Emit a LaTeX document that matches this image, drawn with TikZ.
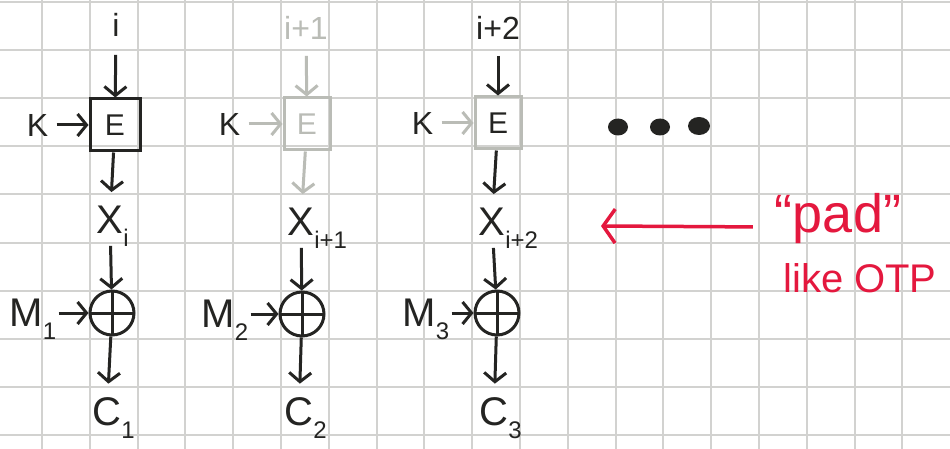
\documentclass[tikz,border=0pt]{standalone}
\usepackage{fontspec}
\setmainfont{Liberation Sans}
\usetikzlibrary{positioning,arrows.meta}

\definecolor{ink}{RGB}{36,36,34}
\definecolor{faded}{RGB}{186,188,182}
\definecolor{paperline}{RGB}{210,210,208}
\definecolor{marker}{RGB}{228,24,62}

\newcommand{\lowsub}[1]{\smash{\raisebox{-0.32em}{\fontsize{24}{24}\selectfont #1}}}
\newcommand{\hangsub}[1]{\rlap{\lowsub{#1}}}

\begin{document}
\begin{tikzpicture}[x=1pt,y=-1pt,
  big/.style={inner sep=2pt,text=ink,font=\fontsize{40}{40}\selectfont},
  small/.style={inner sep=2pt,text=ink,font=\fontsize{32}{32}\selectfont},
  encbox/.style={rectangle,draw=#1,line width=3pt,minimum width=50pt,minimum height=52pt,inner sep=0pt,font=\fontsize{30}{30}\selectfont},
  xorop/.style={circle,draw=ink,line width=3pt,minimum size=44pt,inner sep=0pt,
    path picture={\draw[ink,line width=3pt] (path picture bounding box.north) -- (path picture bounding box.south)
      (path picture bounding box.west) -- (path picture bounding box.east);}},
  arr/.style={draw=#1,line width=3pt,-{Straight Barb[length=9pt,width=22pt]}},
  arr/.default=ink,
  note/.style={inner sep=2pt,text=marker,font=\fontsize{#1}{#1}\selectfont},
  redarr/.style={draw=marker,line width=3.5pt,-{Straight Barb[length=12pt,width=34pt]}}]

  \useasboundingbox[fill=white] (0,0) rectangle (950,449);
  % grid paper
  \foreach \gx in {0,...,18}
    \draw[paperline,line width=2pt] ({42+47.8*\gx},0) -- ({42+47.8*\gx},449);
  \foreach \gy in {0,...,9}
    \draw[paperline,line width=2pt] (0,{2+48.1*\gy}) -- (950,{2+48.1*\gy});

  % block i
  \node[small] (idx1) at (116,25) {i};
  \node[encbox=ink,text=ink] (enc1) at (115,125) {E};
  \node[small,left=38pt of enc1] (key1) {K};
  \node[big] (pad1) at (110,220) {X\hangsub{i}};
  \node[xorop] (xor1) at (112,313) {};
  \node[big,left=30pt of xor1] (msg1) {M\lowsub{1}};
  \node[big] (ct1) at (107,412) {C\hangsub{1}};
  \draw[arr,shorten <=16pt] (idx1) -- (enc1);
  \draw[arr,shorten <=6pt] (key1) -- (enc1);
  \draw[arr,shorten >=12pt] (enc1) -- (pad1);
  \draw[arr,shorten <=10pt] (pad1) -- (xor1);
  \draw[arr] (msg1) -- (xor1);
  \draw[arr,shorten >=12pt] (xor1) -- (ct1);

  % block i+1
  \node[small,text=faded] (idx2) at (306,28) {i+1};
  \node[encbox=faded,text=faded,minimum width=46pt] (enc2) at (307,124) {E};
  \node[small,left=40pt of enc2] (key2) {K};
  \node[big] (pad2) at (301,222) {X\hangsub{i+1}};
  \node[xorop] (xor2) at (302,314) {};
  \node[big,left=28pt of xor2] (msg2) {M\lowsub{2}};
  \node[big] (ct2) at (299,412) {C\hangsub{2}};
  \draw[arr=faded,shorten <=14pt] (idx2) -- (enc2);
  \draw[arr=faded,shorten <=6pt] (key2) -- (enc2);
  \draw[arr=faded,shorten >=12pt] (enc2) -- (pad2);
  \draw[arr,shorten <=10pt] (pad2) -- (xor2);
  \draw[arr] (msg2) -- (xor2);
  \draw[arr,shorten >=12pt] (xor2) -- (ct2);

  % block i+2
  \node[small] (idx3) at (498,28) {i+2};
  \node[encbox=faded,text=ink,minimum width=46pt] (enc3) at (498,123) {E};
  \node[small,left=38pt of enc3] (key3) {K};
  \node[big] (pad3) at (492,222) {X\hangsub{i+2}};
  \node[xorop] (xor3) at (497,313) {};
  \node[big,left=22pt of xor3] (msg3) {M\lowsub{3}};
  \node[big] (ct3) at (494,412) {C\hangsub{3}};
  \draw[arr,shorten <=14pt] (idx3) -- (enc3);
  \draw[arr=faded,shorten <=6pt] (key3) -- (enc3);
  \draw[arr,shorten >=12pt] (enc3) -- (pad3);
  \draw[arr,shorten <=10pt] (pad3) -- (xor3);
  \draw[arr] (msg3) -- (xor3);
  \draw[arr,shorten >=12pt] (xor3) -- (ct3);

  % and so on
  \fill[ink] (618,127) ellipse [x radius=10,y radius=8.5];
  \fill[ink] (660,127) ellipse [x radius=10,y radius=8.5];
  \fill[ink] (699,126) ellipse [x radius=11,y radius=9];

  % red note
  \node[note=54,anchor=base] (padnote) at (838,233) {“pad”};
  \node[note=40,anchor=base] (otpnote) at (860,292) {like OTP};
  \coordinate (padtip) at (601,226);
  \draw[redarr,shorten <=20pt] ([yshift=-8pt]padnote.west) -- (padtip);
\end{tikzpicture}
\end{document}
